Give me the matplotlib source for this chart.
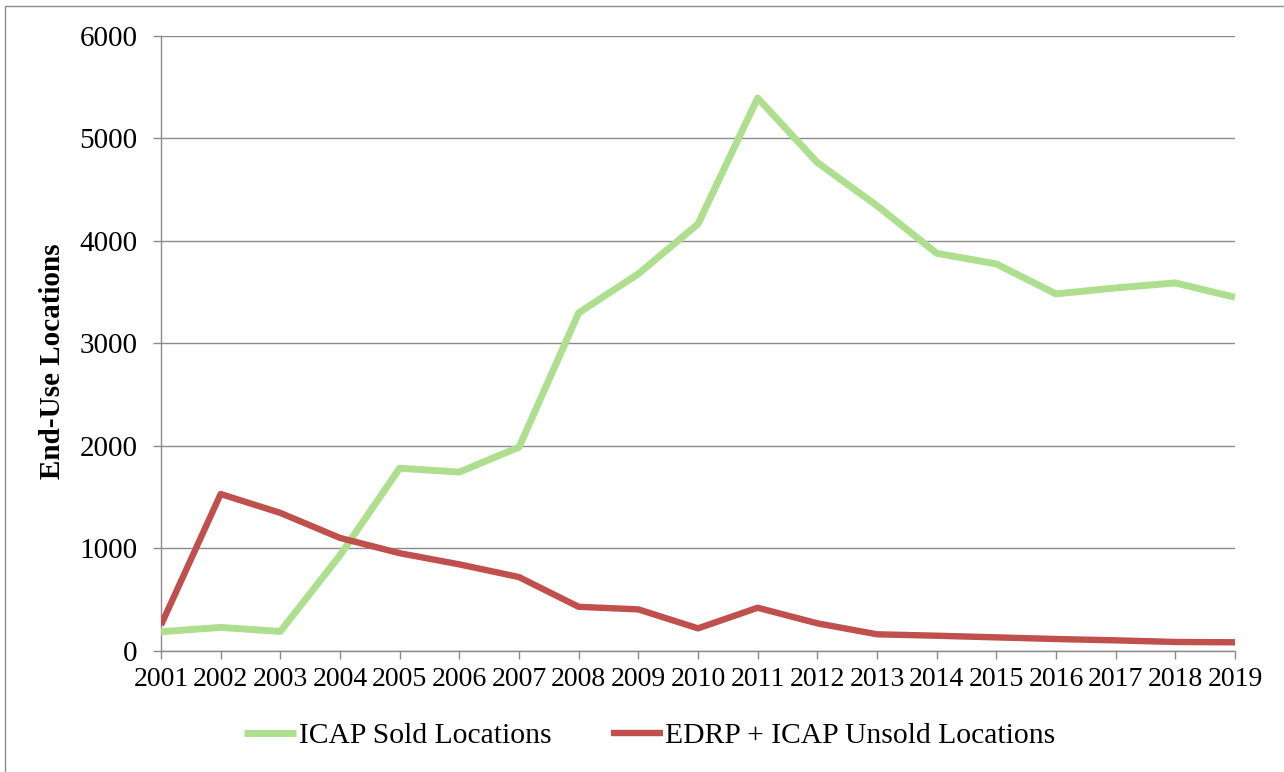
import matplotlib
matplotlib.use("Agg")
import matplotlib.pyplot as plt
from matplotlib.patches import Rectangle

years = [str(y) for y in range(2001, 2020)]
icap_sold = [185, 227, 188, 930, 1780, 1742, 1985, 3295, 3675, 4162, 5390,
             4761, 4340, 3876, 3772, 3480, 3538, 3587, 3447]
edrp_icap_unsold = [250, 1528, 1344, 1100, 951, 842, 718, 428, 403, 218, 419,
                    267, 160, 146, 130, 114, 101, 85, 82]
y_ticks = [0, 1000, 2000, 3000, 4000, 5000, 6000]

series_names = ["ICAP Sold Locations", "EDRP + ICAP Unsold Locations"]
series_colors = ["#ADDF8F", "#C0504D"]

plt.rcParams["font.family"] = ["Liberation Serif", "DejaVu Serif"]

W, H = 1284, 772
fig = plt.figure(figsize=(W / 100, H / 100), dpi=100)

# outer chart frame
fig.patches.append(Rectangle((5 / W, -0.1), 1.2, 1.1 - 5.5 / H,
                             transform=fig.transFigure, fill=False,
                             edgecolor="#8C8C8C", linewidth=1.0))

ax = fig.add_axes([161 / W, 1 - 650.7 / H, (1235 - 161) / W, (650.7 - 35.5) / H])

x = list(range(len(years)))
ax.plot(x, icap_sold, color=series_colors[0], linewidth=5.0,
        solid_joinstyle="round", solid_capstyle="butt", label=series_names[0], zorder=3)
ax.plot(x, edrp_icap_unsold, color=series_colors[1], linewidth=4.6,
        solid_joinstyle="round", solid_capstyle="butt", label=series_names[1], zorder=4)

ax.set_xlim(0, len(years) - 1)
ax.set_ylim(0, 6000)
ax.set_xticks(x)
ax.set_xticklabels(years)
ax.set_yticks(y_ticks)
ax.set_yticklabels([str(v) for v in y_ticks])

ax.grid(axis="y", color="#8A8A8A", linewidth=1.0)
ax.set_axisbelow(True)
for side in ("top", "right"):
    ax.spines[side].set_visible(False)
for side in ("left", "bottom"):
    ax.spines[side].set_color("#8A8A8A")
    ax.spines[side].set_linewidth(1.0)

ax.tick_params(axis="both", colors="#8A8A8A", labelcolor="black",
               length=6, width=1.0, direction="out")
ax.tick_params(axis="x", labelsize=20, pad=6)
ax.tick_params(axis="y", labelsize=21, pad=11)

fig.text(53 / W, 1 - 361 / H, "End-Use Locations", rotation=90,
         fontsize=21, fontweight="bold", ha="center", va="center")

fig.legend(loc="center", bbox_to_anchor=(650 / W, 1 - 736 / H), ncol=2,
           frameon=False, fontsize=21.3, handlelength=1.75, handletextpad=0.1,
           columnspacing=2.0)

fig.savefig("out.png", dpi=100)
